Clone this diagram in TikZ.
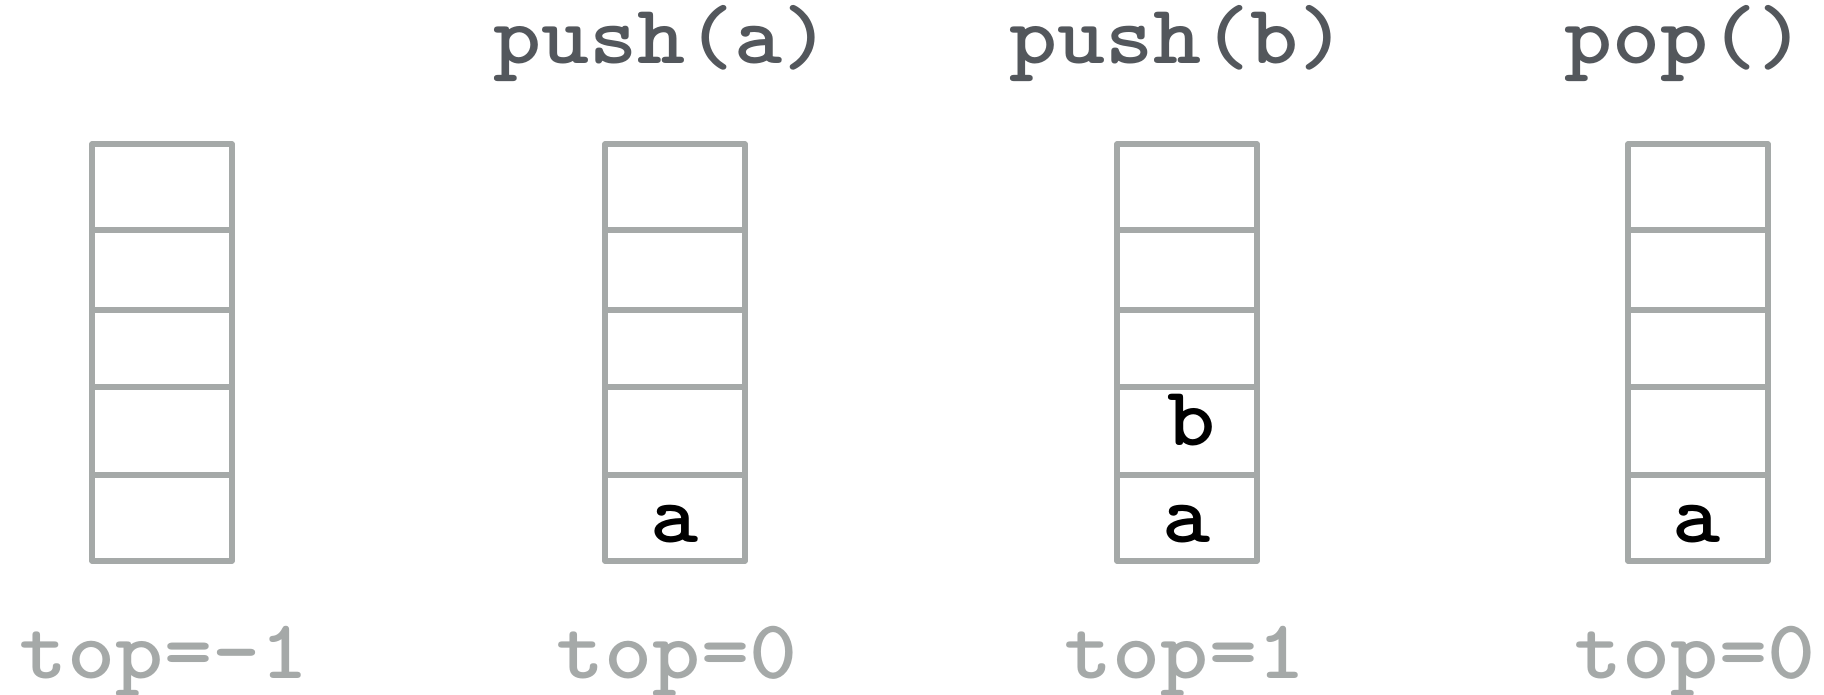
\documentclass[tikz,border=0pt]{standalone}
\usepackage{fontspec}
\usepackage{graphicx}
\definecolor{linegray}{HTML}{A5A9A8}
\definecolor{headgray}{HTML}{53575C}
\newcommand\widetxt[1]{\scalebox{1.09}[1]{#1}}
\begin{document}
\begin{tikzpicture}[x=0.5bp,y=-0.5bp,
  stackline/.style={draw=linegray,line width=2.7bp,line cap=round,line join=round},
  txt/.style={inner sep=0pt,anchor=base,font=\ttfamily\bfseries\addfontfeatures{FakeBold=1.1}\fontsize{42bp}{50bp}\selectfont},
  heading/.style={txt,text=headgray},
  toplabel/.style={txt,text=linegray},
  item/.style={txt,text=black}]
\useasboundingbox (0,0) rectangle (1824,695);
\foreach \x/\n in {92/s1,605/s2,1117/s3,1628/s4}{
  \draw[stackline] (\x,144) rectangle (\x+140,561);
  \foreach \y in {230,310,387,475}{
    \draw[stackline] (\x,\y) -- (\x+140,\y);
  }
}
% headings
\node[heading] (h2) at (662,64) {\widetxt{push(a)}};
\node[heading] (h3) at (1178,64) {\widetxt{push(b)}};
\node[heading] (h4) at (1685,64) {\widetxt{pop()}};
% items
\node[item] (a2) at (675,542) {\widetxt{a}};
\node[item] (a3) at (1187,542) {\widetxt{a}};
\node[item] (b3) at (1192,445) {\widetxt{b}};
\node[item] (a4) at (1697,542) {\widetxt{a}};
% top labels
\node[toplabel] (t1) at (164,678) {\widetxt{top=-1}};
\node[toplabel] (t2) at (677,678) {\widetxt{top=0}};
\node[toplabel] (t3) at (1185,678) {\widetxt{top=1}};
\node[toplabel] (t4) at (1695,678) {\widetxt{top=0}};
\end{tikzpicture}
\end{document}
